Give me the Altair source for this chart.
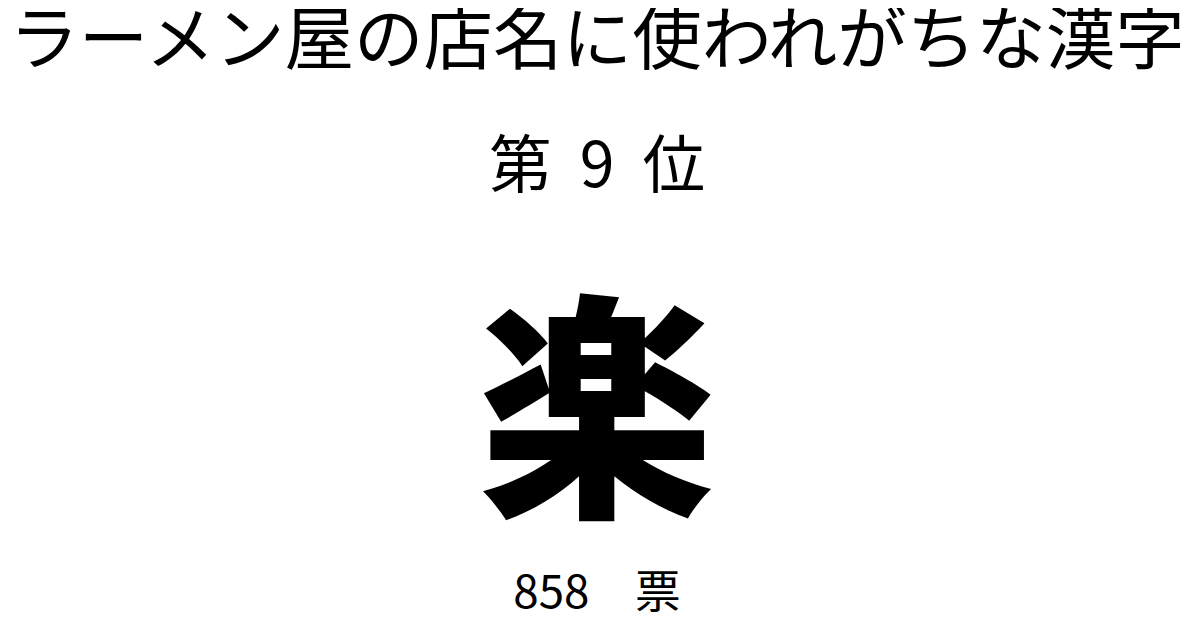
import altair as alt
import pandas as pd

title_text = ["ラーメン屋の店名に使われがちな漢字"]
rank_text = ["第\u00a0 9\u00a0 位"]
kanji_text = ["楽"]
votes_text = ["858　票"]

def layer(texts, size, y, weight, font="Noto Sans CJK JP"):
    df = pd.DataFrame({"t": texts})
    return alt.Chart(df).mark_text(
        font=font, fontSize=size, fontWeight=weight, color="#000000",
        align="center", baseline="middle"
    ).encode(text="t:N", x=alt.value(593), y=alt.value(y))

chart = alt.layer(
    layer(title_text, 70, 33, 400),
    layer(rank_text, 63, 159, 400),
    layer(kanji_text, 240, 419, 900),
    layer(votes_text, 46, 588, 400),
).properties(
    width=1192, height=616, padding=0,
    autosize=alt.AutoSizeParams(type="none"),
    background="#ffffff"
).configure_view(stroke=None)

chart.save("out.html", embed_options={"renderer": "svg", "actions": False})
